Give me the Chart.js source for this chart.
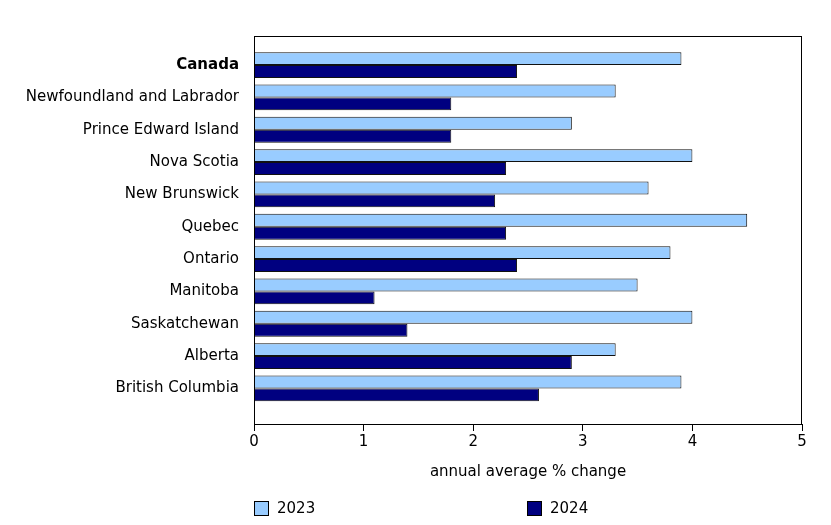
<!DOCTYPE html>
<html>
<head>
<meta charset="utf-8">
<script src="https://cdn.jsdelivr.net/npm/chart.js@4"></script>
<style>
  body { margin: 0; background: #fff; }
  #wrap { position: relative; width: 831px; height: 525px; }
  .lg { position: absolute; top: 499px; font: 15px "DejaVu Sans", sans-serif; color: #000; display: flex; align-items: center; }
  .lg span.box { width: 13px; height: 13px; border: 1px solid #000; margin-right: 8px; display: inline-block; }
</style>
</head>
<body>
<div id="wrap">
  <canvas id="myChart" width="831" height="525"></canvas>
</div>
<script>
const provinces = ['Canada', 'Newfoundland and Labrador', 'Prince Edward Island', 'Nova Scotia',
    'New Brunswick', 'Quebec', 'Ontario', 'Manitoba', 'Saskatchewan', 'Alberta', 'British Columbia'];
const values2023 = [3.9, 3.3, 2.9, 4.0, 3.6, 4.5, 3.8, 3.5, 4.0, 3.3, 3.9];
const values2024 = [2.4, 1.8, 1.8, 2.3, 2.2, 2.3, 2.4, 1.1, 1.4, 2.9, 2.6];
const xTicks = [0, 1, 2, 3, 4, 5];
const seriesNames = ['2023', '2024'];
const seriesColors = ['#99CCFF', '#000080'];

const font = '"DejaVu Sans", Verdana, sans-serif';

// frame around the plot area
const framePlugin = {
    id: 'frame',
    afterDraw(chart) {
        const a = chart.chartArea;
        const ctx = chart.ctx;
        ctx.save();
        ctx.strokeStyle = '#000';
        ctx.lineWidth = 1;
        ctx.strokeRect(a.left + 0.5, a.top + 0.5, a.right - a.left - 1, a.bottom - a.top);
        ctx.restore();
    }
};

const toPoints = vals => vals.map((v, i) => ({ x: v, y: i }));

const ctx = document.getElementById('myChart').getContext('2d');
new Chart(ctx, {
    type: 'bar',
    data: {
        datasets: [
            {
                label: seriesNames[0],
                data: toPoints(values2023),
                backgroundColor: seriesColors[0],
                borderColor: '#111',
                borderWidth: 1
            },
            {
                label: seriesNames[1],
                data: toPoints(values2024),
                backgroundColor: seriesColors[1],
                borderColor: '#111',
                borderWidth: 1
            }
        ]
    },
    options: {
        indexAxis: 'y',
        responsive: false,
        animation: false,
        datasets: { bar: { categoryPercentage: 0.8, barPercentage: 1 } },
        layout: { padding: { left: 0, right: 29, top: 36, bottom: 44 } },
        scales: {
            x: {
                type: 'linear',
                position: 'bottom',
                min: 0,
                max: 5,
                afterBuildTicks: scale => { scale.ticks = xTicks.map(v => ({ value: v })); },
                afterFit: scale => { scale.height = 57; },
                grid: { display: true, drawOnChartArea: false, color: '#000', tickLength: 7 },
                border: { display: true, color: '#000' },
                ticks: { color: '#000', font: { family: font, size: 15 }, padding: 2 },
                title: {
                    display: true,
                    text: 'annual average % change',
                    color: '#000',
                    font: { family: font, size: 15 },
                    padding: 0
                }
            },
            y: {
                type: 'linear',
                reverse: true,
                offset: false,
                min: -0.9,
                max: 11.1,
                afterBuildTicks: scale => { scale.ticks = provinces.map((p, i) => ({ value: i })); },
                afterFit: scale => { scale.width = 254; },
                grid: { display: false, drawTicks: false, offset: false },
                border: { display: true, color: '#000' },
                ticks: {
                    color: '#000',
                    padding: 15,
                    autoSkip: false,
                    callback: v => provinces[v],
                    font: c => ({ family: font, size: 15, weight: c.index === 0 ? 'bold' : 'normal' })
                }
            }
        },
        plugins: {
            legend: { display: false },
            tooltip: { enabled: false }
        }
    },
    plugins: [framePlugin]
});

// legend
const legendLeft = [254, 527];
const wrap = document.getElementById('wrap');
seriesNames.forEach((name, i) => {
    const d = document.createElement('div');
    d.className = 'lg';
    d.style.left = legendLeft[i] + 'px';
    d.innerHTML = '<span class="box" style="background:' + seriesColors[i] + '"></span>' + name;
    wrap.appendChild(d);
});
</script>
</body>
</html>
